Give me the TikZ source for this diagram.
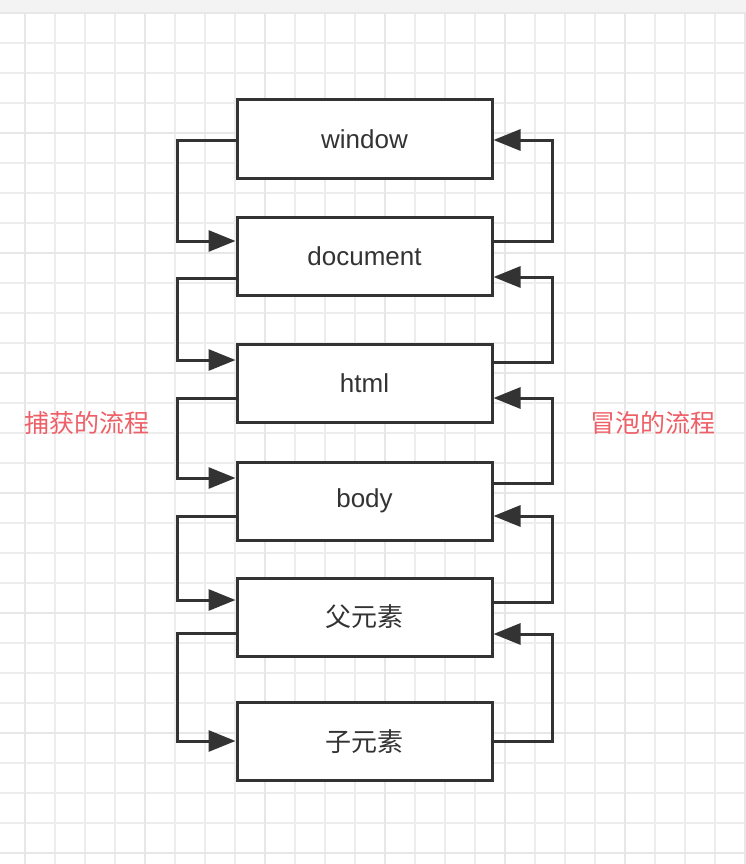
\documentclass[tikz,border=0pt]{standalone}
\usepackage{fontspec}
\setmainfont{Liberation Sans}
\newfontfamily\cjk{Noto Sans CJK SC}
\usetikzlibrary{arrows.meta}
\definecolor{gridminor}{HTML}{EDEDED}
\definecolor{gridmajor}{HTML}{E7E7E7}
\definecolor{ink}{HTML}{333333}
\definecolor{redlabel}{HTML}{EE5F67}
\tikzset{
  boxnode/.style={draw=ink, line width=3pt, fill=white, minimum width=255pt, minimum height=78pt, inner sep=0pt, font=\fontsize{26}{29}\selectfont, text=ink},
  flow/.style={draw=ink, line width=3pt, -{Triangle[length=27pt,width=21pt]}},
  sidelabel/.style={text=redlabel, font=\cjk\fontsize{25}{28}\selectfont, inner sep=0pt}
}
\begin{document}
\begin{tikzpicture}[x=1pt,y=-1pt]
\useasboundingbox (0,0) rectangle (746,864);
\fill[white] (0,0) rectangle (746,864);
\fill[gridminor!70] (0,0) rectangle (746,13);
\foreach \x in {25,55,...,745} \draw[gridminor, line width=1.5pt] (\x,13) -- (\x,864);
\foreach \y in {43,73,...,863} \draw[gridminor, line width=1.5pt] (0,\y) -- (746,\y);
\foreach \x in {25,145,...,745} \draw[gridmajor, line width=1.5pt] (\x,13) -- (\x,864);
\foreach \y in {133,253,...,863} \draw[gridmajor, line width=1.5pt] (0,\y) -- (746,\y);
\draw[gridmajor, line width=1.5pt] (0,13) -- (746,13);

\node[boxnode] (win) at (364.5,139) {\raisebox{-1.5pt}{window}};
\node[boxnode] (doc) at (364.5,256.5) {\raisebox{-1.5pt}{document}};
\node[boxnode] (html) at (364.5,383) {\raisebox{-1.5pt}{html}};
\node[boxnode] (body) at (364.5,501) {body};
\node[boxnode] (par) at (364.5,617) {\cjk 父元素};
\node[boxnode] (chi) at (364.5,741.5) {\cjk 子元素};

\node[sidelabel] (cap) at (86.5,423) {捕获的流程};
\node[sidelabel] (bub) at (653,423) {冒泡的流程};

% capture (left side)
\draw[flow] (win.west |- 0,140) -- (177,140) |- (doc.west |- 0,241);
\draw[flow] (doc.west |- 0,278) -- (177,278) |- (html.west |- 0,360);
\draw[flow] (html.west |- 0,398) -- (177,398) |- (body.west |- 0,478);
\draw[flow] (body.west |- 0,516) -- (177,516) |- (par.west |- 0,600);
\draw[flow] (par.west |- 0,633) -- (177,633) |- (chi.west |- 0,741);

% bubble (right side)
\draw[flow] (doc.east |- 0,241) -- (552,241) |- (win.east |- 0,140);
\draw[flow] (html.east |- 0,362) -- (552,362) |- (doc.east |- 0,277);
\draw[flow] (body.east |- 0,483) -- (552,483) |- (html.east |- 0,398);
\draw[flow] (par.east |- 0,602) -- (552,602) |- (body.east |- 0,516);
\draw[flow] (chi.east |- 0,741) -- (552,741) |- (par.east |- 0,634);
\end{tikzpicture}
\end{document}
